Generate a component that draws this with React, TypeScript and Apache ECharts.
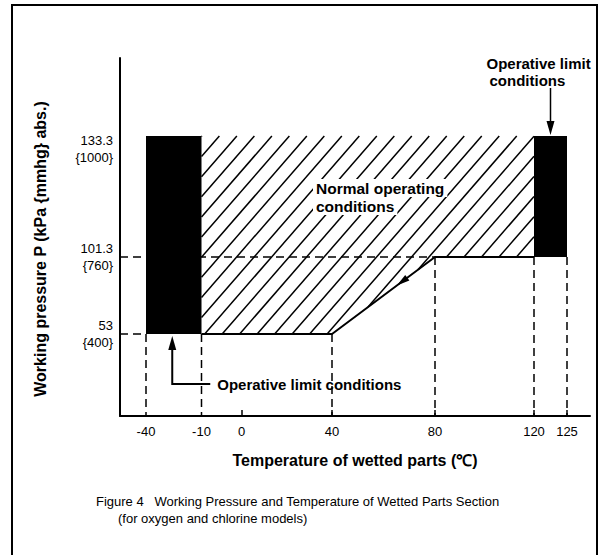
import React, { useEffect, useRef } from "react";
import * as echarts from "echarts";

const FONT = '"Liberation Sans", Arial, Helvetica, sans-serif';

// ---------------- data ----------------
const temperatureTicks = [-40, -10, 0, 40, 80, 120, 125];
const tickMarkTemps = [0, 40, 80, 120, 125];
const pressureTicks = [53, 101.3, 133.3];
const mmhgTicks = [400, 760, 1000];

// operative limit blocks (black)
const limitTempFrom = [-40, 120];
const limitTempTo = [-10, 125];
const limitPressureFrom = [53, 101.3];
const limitPressureTo = [133.3, 133.3];

// normal operating region (hatched)
const normalTemps = [-10, 120, 120, 80, 40, -10];
const normalPressures = [133.3, 133.3, 101.3, 101.3, 53, 53];

// lower boundary of the normal region (solid line)
const boundaryTemps = [-10, 40, 80, 120];
const boundaryPressures = [53, 53, 101.3, 101.3];

// dashed guides
const vGuideTemps = [-40, -10, 40, 80, 120, 125];
const vGuideFromPressures = [53, 53, 53, 101.3, 101.3, 101.3];
const hGuidePressures = [53, 101.3];
const hGuideToTemps = [-40, 80];

// ---------------- schematic layout (figure not drawn to scale) ----------------
const X_SLOTS = [26, 81.5, 121.5, 212, 315, 414, 447];
const Y_SLOTS = [82, 159, 280];
const X_MAX = 470;
const Y_MAX = 358;

function interp(v: number, ticks: number[], slots: number[]) {
  let i = 0;
  while (i < ticks.length - 2 && v > ticks[i + 1]) i++;
  const t = (v - ticks[i]) / (ticks[i + 1] - ticks[i]);
  return slots[i] + t * (slots[i + 1] - slots[i]);
}
const tx = (t: number) => interp(t, temperatureTicks, X_SLOTS);
const py = (p: number) => interp(p, pressureTicks, Y_SLOTS);
const nearest = (arr: number[], v: number) => {
  let best = 0;
  arr.forEach((a, i) => {
    if (Math.abs(a - v) < Math.abs(arr[best] - v)) best = i;
  });
  return best;
};

function hatchSegments(poly: number[][], spacing: number, angleDeg: number, phase: number) {
  const th = (angleDeg * Math.PI) / 180;
  const d = [Math.cos(th), -Math.sin(th)];
  const n = [Math.sin(th), Math.cos(th)];
  const us = poly.map((p) => p[0] * n[0] + p[1] * n[1]);
  const umin = Math.min(...us);
  const umax = Math.max(...us);
  const segs: { x: number; y: number }[][] = [];
  for (let c = Math.ceil((umin - phase) / spacing) * spacing + phase; c <= umax; c += spacing) {
    const hits: { x: number; y: number; s: number }[] = [];
    for (let i = 0; i < poly.length; i++) {
      const j = (i + 1) % poly.length;
      const a = poly[i];
      const b = poly[j];
      const ua = us[i];
      const ub = us[j];
      if ((ua <= c && ub > c) || (ub <= c && ua > c)) {
        const t = (c - ua) / (ub - ua);
        const x = a[0] + t * (b[0] - a[0]);
        const y = a[1] + t * (b[1] - a[1]);
        hits.push({ x, y, s: x * d[0] + y * d[1] });
      }
    }
    hits.sort((p, q) => p.s - q.s);
    for (let k = 0; k + 1 < hits.length; k += 2) segs.push([hits[k], hits[k + 1]]);
  }
  return segs;
}

function arrowHead(tip: number[], dir: number[], len: number, half: number) {
  const l = Math.hypot(dir[0], dir[1]);
  const ux = dir[0] / l;
  const uy = dir[1] / l;
  const bx = tip[0] - ux * len;
  const by = tip[1] - uy * len;
  return [
    [tip[0], tip[1]],
    [bx - uy * half, by + ux * half],
    [bx + uy * half, by - ux * half],
  ];
}

export default function App() {
  const ref = useRef<HTMLDivElement>(null);

  useEffect(() => {
    if (!ref.current) return;
    const chart = echarts.init(ref.current, undefined, { renderer: "svg" });
    const black = "#000";

    const option: any = {
      animation: false,
      backgroundColor: "#fff",
      grid: { left: 120, top: 58, width: X_MAX, height: Y_MAX },
      xAxis: {
        type: "value",
        min: 0,
        max: X_MAX,
        name: "Temperature of wetted parts (℃)",
        nameLocation: "middle",
        nameGap: 36,
        nameTextStyle: { fontFamily: FONT, fontSize: 16, fontWeight: "bold", color: black },
        axisLine: { show: true, lineStyle: { color: black, width: 2 } },
        splitLine: { show: false },
        axisTick: {
          show: true,
          inside: true,
          length: 6,
          lineStyle: { color: black, width: 1.5 },
          customValues: tickMarkTemps.map(tx),
        },
        axisLabel: {
          customValues: X_SLOTS,
          margin: 9,
          fontFamily: FONT,
          fontSize: 13,
          color: black,
          formatter: (v: number) => String(temperatureTicks[nearest(X_SLOTS, v)]),
        },
      },
      yAxis: {
        type: "value",
        min: 0,
        max: Y_MAX,
        name: "Working pressure P (kPa {mmhg} abs.)",
        nameLocation: "middle",
        nameRotate: 90,
        nameGap: 72,
        nameTextStyle: {
          fontFamily: FONT,
          fontSize: 16,
          fontWeight: "bold",
          color: black,
          padding: [0, 24, 0, 0],
        },
        axisLine: { show: true, lineStyle: { color: black, width: 2 } },
        splitLine: { show: false },
        axisTick: { show: false },
        axisLabel: {
          customValues: Y_SLOTS,
          margin: 7,
          fontFamily: FONT,
          fontSize: 13,
          lineHeight: 17,
          color: black,
          rich: { sp: { height: 25, lineHeight: 25, fontSize: 4 } },
          formatter: (v: number) => {
            const i = nearest(Y_SLOTS, v);
            const txt = `${pressureTicks[i]}\n{${mmhgTicks[i]}}`;
            return i === pressureTicks.length - 1 ? `{sp| }\n${txt}` : txt;
          },
        },
      },
      series: [
        {
          type: "custom",
          name: "Normal operating conditions",
          silent: true,
          clip: false,
          z: 1,
          data: [[0, 0]],
          renderItem: (_p: any, api: any) => {
            const poly = normalTemps.map((t, i) => api.coord([tx(t), py(normalPressures[i])]));
            const segs = hatchSegments(poly, 13.2, 49, 4);
            return {
              type: "group",
              children: segs.map((s) => ({
                type: "line",
                shape: { x1: s[0].x, y1: s[0].y, x2: s[1].x, y2: s[1].y },
                style: { stroke: black, lineWidth: 1.5 },
              })),
            };
          },
        },
        {
          type: "custom",
          name: "vertical guides",
          silent: true,
          clip: false,
          z: 2,
          data: vGuideTemps.map((t, i) => [tx(t), py(vGuideFromPressures[i])]),
          renderItem: (_p: any, api: any) => {
            const a = api.coord([api.value(0), api.value(1)]);
            const b = api.coord([api.value(0), 0]);
            return {
              type: "line",
              shape: { x1: a[0], y1: a[1], x2: b[0], y2: b[1] },
              style: { stroke: black, lineWidth: 1.5, lineDash: [8, 5] },
            };
          },
        },
        {
          type: "custom",
          name: "horizontal guides",
          silent: true,
          clip: false,
          z: 2,
          data: hGuidePressures.map((p, i) => [tx(hGuideToTemps[i]), py(p)]),
          renderItem: (_p: any, api: any) => {
            const a = api.coord([0, api.value(1)]);
            const b = api.coord([api.value(0), api.value(1)]);
            return {
              type: "line",
              shape: { x1: a[0], y1: a[1], x2: b[0], y2: b[1] },
              style: { stroke: black, lineWidth: 1.5, lineDash: [8, 5] },
            };
          },
        },
        {
          type: "custom",
          name: "Operative limit conditions",
          silent: true,
          clip: false,
          z: 3,
          data: limitTempFrom.map((t, i) => [tx(t), tx(limitTempTo[i]), py(limitPressureFrom[i]), py(limitPressureTo[i])]),
          encode: { x: [0, 1], y: [2, 3] },
          renderItem: (_p: any, api: any) => {
            const a = api.coord([api.value(0), api.value(3)]);
            const b = api.coord([api.value(1), api.value(2)]);
            return {
              type: "rect",
              shape: { x: a[0], y: a[1], width: b[0] - a[0], height: b[1] - a[1] },
              style: { fill: black },
            };
          },
        },
        {
          type: "line",
          name: "boundary",
          silent: true,
          z: 4,
          symbol: "none",
          lineStyle: { color: black, width: 2 },
          data: boundaryTemps.map((t, i) => [tx(t), py(boundaryPressures[i])]),
        },
        {
          type: "custom",
          name: "annotations",
          silent: true,
          clip: false,
          z: 5,
          data: [[0, 0]],
          renderItem: (_p: any, api: any) => {
            const children: any[] = [];
            const txtStyle = (text: string, size: number, extra: any = {}) => ({
              text,
              fill: black,
              font: `bold ${size}px ${FONT}`,
              align: "left",
              verticalAlign: "middle",
              ...extra,
            });
            // arrowhead on the sloped boundary
            const s0 = api.coord([tx(boundaryTemps[1]), py(boundaryPressures[1])]);
            const s1 = api.coord([tx(boundaryTemps[2]), py(boundaryPressures[2])]);
            const f = 0.63;
            const tip = [s0[0] + f * (s1[0] - s0[0]), s0[1] + f * (s1[1] - s0[1])];
            children.push({
              type: "polygon",
              shape: { points: arrowHead(tip, [s0[0] - s1[0], s0[1] - s1[1]], 13, 3.5) },
              style: { fill: black },
            });

            // normal operating conditions label
            const nAnchor = api.coord([tx(40), py(101.3)]);
            children.push({
              type: "text",
              x: nAnchor[0] - 19,
              y: nAnchor[1] - 69,
              style: txtStyle("Normal operating", 15.5, { backgroundColor: "#fff", padding: [1, 3] }),
            });
            children.push({
              type: "text",
              x: nAnchor[0] - 19,
              y: nAnchor[1] - 51,
              style: txtStyle("conditions", 15.5, { backgroundColor: "#fff", padding: [1, 3] }),
            });

            // right block annotation (from above)
            const r = api.coord([
              tx((limitTempFrom[1] + limitTempTo[1]) / 2),
              py(limitPressureTo[1]),
            ]);
            children.push({
              type: "line",
              shape: { x1: r[0], y1: r[1] - 48, x2: r[0], y2: r[1] - 8 },
              style: { stroke: black, lineWidth: 1.5 },
            });
            children.push({
              type: "polygon",
              shape: { points: arrowHead([r[0], r[1] - 1], [0, 1], 14, 4) },
              style: { fill: black },
            });
            children.push({
              type: "text",
              x: r[0] - 64,
              y: r[1] - 73,
              style: txtStyle("Operative limit", 15),
            });
            children.push({
              type: "text",
              x: r[0] - 61,
              y: r[1] - 56,
              style: txtStyle("conditions", 15),
            });

            // left block annotation (from below)
            const l = api.coord([
              tx((limitTempFrom[0] + limitTempTo[0]) / 2),
              py(limitPressureFrom[0]),
            ]);
            const lx = l[0] - 1.5;
            children.push({
              type: "polyline",
              shape: {
                points: [
                  [lx, l[1] + 10],
                  [lx, l[1] + 50],
                  [lx + 38, l[1] + 50],
                ],
              },
              style: { stroke: black, lineWidth: 2, fill: null },
            });
            children.push({
              type: "polygon",
              shape: { points: arrowHead([lx, l[1] + 2], [0, -1], 14, 4) },
              style: { fill: black },
            });
            children.push({
              type: "text",
              x: lx + 45,
              y: l[1] + 50,
              style: txtStyle("Operative limit conditions", 15),
            });
            return { type: "group", children };
          },
        },
      ],
      graphic: [
        {
          type: "polyline",
          silent: true,
          shape: {
            points: [
              [12, 560],
              [12, 5],
              [597, 5],
              [597, 560],
            ],
          },
          style: { stroke: black, lineWidth: 2, fill: null },
        },
        {
          type: "text",
          left: 96,
          top: 495,
          style: {
            text: "Figure 4   Working Pressure and Temperature of Wetted Parts Section",
            font: `13px ${FONT}`,
            fill: black,
          },
        },
        {
          type: "text",
          left: 118,
          top: 512,
          style: {
            text: "(for oxygen and chlorine models)",
            font: `13px ${FONT}`,
            fill: black,
          },
        },
      ],
    };

    chart.setOption(option);
    return () => chart.dispose();
  }, []);

  return (
    <div
      ref={ref}
      style={{ position: "fixed", left: 0, top: 0, width: 603, height: 555, background: "#fff" }}
    />
  );
}
